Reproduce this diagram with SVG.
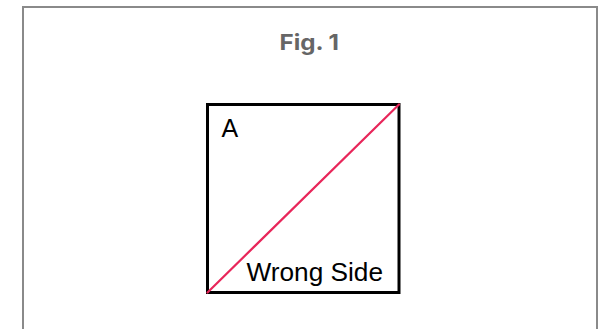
<svg xmlns="http://www.w3.org/2000/svg" width="602" height="329" viewBox="0 0 602 329">
  <style>
    .frame { fill: #ffffff; stroke: #8a8a8a; stroke-width: 2; }
    .title { font-family: "Inter", "Lato", sans-serif; font-weight: bold; font-size: 22px; fill: #666666; }
    .box { fill: #ffffff; stroke: #000000; stroke-width: 3; }
    .label { font-family: "Liberation Sans", Arial, sans-serif; font-size: 25px; fill: #000000; }
    .diag { stroke: #e8265a; stroke-width: 2.2; stroke-linecap: round; }
  </style>
  <rect x="0" y="0" width="602" height="329" fill="#ffffff"/>
  <rect class="frame" x="23" y="7" width="574" height="340"/>
  <text class="title" x="279.5" y="49.5" textLength="59.5" lengthAdjust="spacingAndGlyphs">Fig. 1</text>
  <g id="square">
    <rect class="box" x="207.5" y="104.5" width="191.5" height="188"/>
  </g>
  <g id="connectors">
    <line class="diag" x1="207.5" y1="292.5" x2="399" y2="104.5"/>
  </g>
  <g id="labels">
    <text class="label" x="221.5" y="136.5">A</text>
    <text class="label" x="246.5" y="281" textLength="136.5" lengthAdjust="spacingAndGlyphs">Wrong Side</text>
  </g>
</svg>
